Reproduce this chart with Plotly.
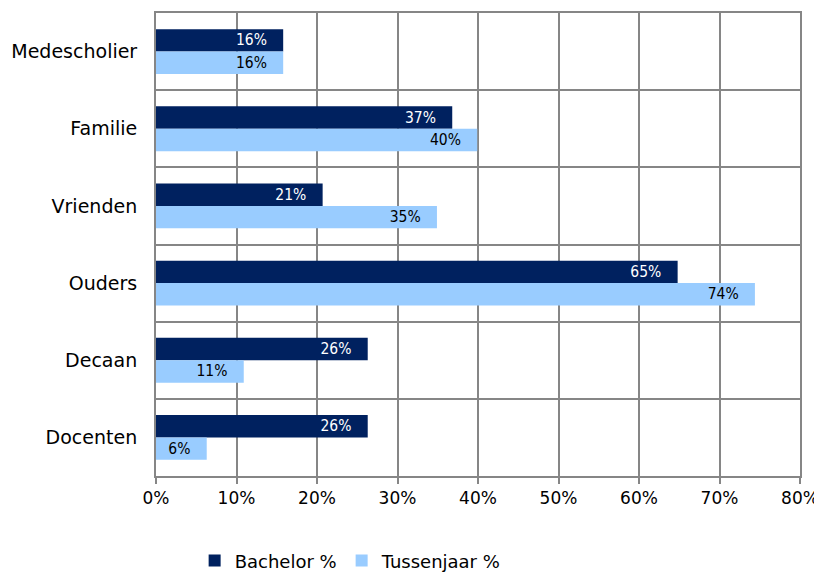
import plotly.graph_objects as go

categories = ["Medescholier", "Familie", "Vrienden", "Ouders", "Decaan", "Docenten"]
bachelor = [15.8, 36.8, 20.7, 64.8, 26.3, 26.3]
tussenjaar = [15.8, 39.9, 34.9, 74.4, 10.9, 6.3]
x_ticks = [0, 10, 20, 30, 40, 50, 60, 70, 80]

FONT = "DejaVu Sans, sans-serif"
FONT_C = "DejaVu Sans Condensed, DejaVu Sans, sans-serif"
NAVY = "#00215F"
LIGHT = "#99CCFF"
GRID = "#868686"
PAD = "\u00a0\u00a0\u00a0"

fig = go.Figure()
fig.add_trace(go.Bar(
    y=categories, x=bachelor, name="Bachelor %", orientation="h",
    marker=dict(color=NAVY, line=dict(width=0)),
    texttemplate="%{x:.0f}%" + PAD, textposition="inside", insidetextanchor="end",
    textfont=dict(color="white", size=15.5, family=FONT_C), constraintext="none",
))
fig.add_trace(go.Bar(
    y=categories, x=tussenjaar, name="Tussenjaar %", orientation="h",
    marker=dict(color=LIGHT, line=dict(width=0)),
    texttemplate="%{x:.0f}%" + PAD, textposition="inside", insidetextanchor="end",
    textfont=dict(color="black", size=15.5, family=FONT_C), constraintext="none",
))

# page body has an 8px margin; compensate so the plot lands where the reference has it
fig.update_layout(
    width=814, height=570,
    margin=dict(l=148, r=20, t=3, b=102),
    paper_bgcolor="white", plot_bgcolor="white",
    barmode="group", bargap=0.42, bargroupgap=0,
    font=dict(family=FONT, size=18, color="black"),
    showlegend=True,
    legend=dict(orientation="h", x=0.06, xanchor="left",
                yref="container", y=0.03, yanchor="middle",
                font=dict(size=18, family=FONT), itemwidth=30, traceorder="normal"),
    xaxis=dict(
        range=[0, 80], tickvals=x_ticks, ticktext=[f"{v}%" for v in x_ticks],
        showgrid=True, gridcolor=GRID, gridwidth=2,
        showline=True, linecolor=GRID, linewidth=2, mirror=True,
        ticks="outside", ticklen=6, tickcolor=GRID, tickwidth=2,
        zeroline=False, tickfont=dict(size=17),
    ),
    yaxis=dict(
        autorange="reversed", tickson="boundaries",
        showgrid=True, gridcolor=GRID, gridwidth=2,
        showline=True, linecolor=GRID, linewidth=2, mirror=True,
        ticks="", ticklen=0, tickfont=dict(size=19), ticklabelstandoff=13,
    ),
)

fig.write_html("out.html")
